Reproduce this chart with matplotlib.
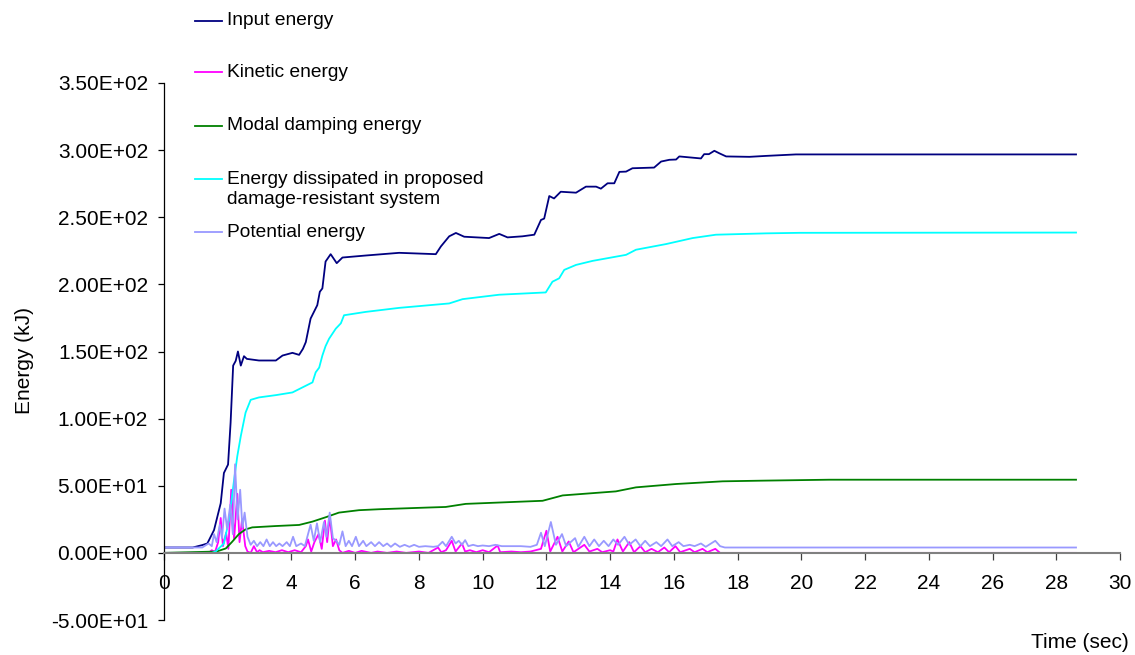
import matplotlib
matplotlib.use('Agg')
import matplotlib.pyplot as plt
from matplotlib.lines import Line2D
from matplotlib.ticker import FuncFormatter

plt.rcParams['font.family'] = ['Liberation Sans', 'DejaVu Sans']

# time (sec) / energy (kJ)
input_t = [0, 0.9, 1.2, 1.36, 1.57, 1.78, 1.88, 2.01, 2.09, 2.17, 2.25, 2.32, 2.41, 2.51,
           2.6, 2.98, 3.51, 3.72, 4.03, 4.24, 4.36, 4.45, 4.6, 4.81, 4.89, 4.97, 5.07,
           5.23, 5.42, 5.6, 6.33, 7.38, 8.53, 8.69, 8.95, 9.16, 9.42, 10.2, 10.52, 10.78,
           11.25, 11.62, 11.83, 11.93, 12.09, 12.24, 12.45, 12.93, 13.24, 13.56, 13.71,
           13.92, 14.13, 14.29, 14.5, 14.7, 15.38, 15.6, 15.86, 16.07, 16.17, 16.85,
           16.95, 17.1, 17.27, 17.43, 17.64, 18.37, 18.89, 19.83, 28.62]
input_e = [4, 4, 5.8, 7, 17, 37, 59.5, 65.8, 97, 139.5, 143, 150, 139.5, 146.5,
           144.5, 143.3, 143.3, 147, 149, 147.5, 152, 157, 174.5, 184.5, 194.5, 197, 217,
           222.5, 215.8, 220, 221.5, 223.5, 222.5, 228.3, 235.8, 238.3, 235.5, 234.5, 237.6, 235,
           235.8, 237, 248, 249, 265.8, 264, 269, 268.3, 272.8, 272.8, 271.3,
           275.3, 275.3, 283.8, 284, 286.5, 287, 291.5, 292.8, 293, 295.3, 293.8,
           297, 297, 299.5, 297.6, 295.3, 295, 295.7, 296.8, 296.8]

kinetic_t = [0, 1.4, 1.5, 1.6, 1.7, 1.78, 1.85, 1.95, 2.02, 2.11, 2.2, 2.3, 2.37, 2.45,
             2.55, 2.62, 2.72, 2.82, 2.92, 3.0, 3.1, 3.3, 3.5, 3.7, 3.9, 4.1, 4.3, 4.45,
             4.52, 4.62, 4.72, 4.85, 4.95, 5.05, 5.12, 5.2, 5.3, 5.4, 5.5, 5.6, 5.8, 6.0,
             6.2, 6.5, 6.7, 7.0, 7.3, 7.6, 8.0, 8.3, 8.6, 8.7, 8.85, 9.03, 9.15, 9.35,
             9.45, 9.6, 9.8, 10.0, 10.2, 10.47, 10.55, 10.9, 11.2, 11.5, 11.83, 12.0,
             12.12, 12.35, 12.5, 12.7, 12.85, 13.19, 13.35, 13.6, 13.75, 14.0, 14.1,
             14.23, 14.4, 14.6, 14.75, 14.95, 15.1, 15.3, 15.5, 15.7, 15.85, 16.05, 16.2,
             16.5, 16.65, 16.9, 17.05, 17.3, 17.45, 28.62]
kinetic_e = [0, 0, 2, 0.5, 8, 26, 5, 15, 3, 47, 10, 44, 8, 25,
             5, 1, 0, 5, 0.5, 2, 0.5, 1.5, 0.5, 2, 0.5, 2, 0.5, 5,
             10, 1, 8, 14, 3, 24, 8, 27, 5, 10, 2, 0, 1.5, 0,
             1.5, 0, 1, 0, 1, 0, 1, 0, 4, 0.5, 2, 9, 1, 7,
             1, 2, 0.5, 2, 0.5, 5.5, 0.5, 1, 0.5, 1, 3, 16.5,
             1, 12, 1, 8.5, 0.5, 6, 1, 3, 0.5, 2, 1,
             10, 1, 8, 0.5, 5, 0.5, 3, 0.5, 4, 0.5, 5, 0.5,
             3, 0.5, 3, 0.5, 3, 0, 0]

modal_t = [0, 1.65, 1.94, 2.14, 2.35, 2.56, 2.77, 3.51, 4.24, 4.66, 5.07, 5.49, 6.12,
           6.75, 8.32, 8.84, 9.47, 11.88, 12.51, 14.18, 14.81, 16.07, 17.53, 18.79,
           20.88, 28.62]
modal_e = [0, 1, 3.3, 8.3, 14, 17.5, 19, 20, 20.8, 23.3, 26.5, 30, 31.8,
           32.5, 33.8, 34.2, 36.5, 38.8, 42.8, 45.8, 48.8, 51.3, 53.3, 53.8,
           54.5, 54.5]

dissip_t = [0, 1.5, 1.62, 1.88, 2.04, 2.2, 2.3, 2.41, 2.56, 2.72, 2.98, 3.51, 4.03, 4.45,
            4.66, 4.76, 4.87, 4.97, 5.07, 5.18, 5.39, 5.55, 5.65, 6.33, 7.38, 8.95, 9.37,
            10.52, 11.98, 12.19, 12.4, 12.56, 12.93, 13.45, 14.5, 14.81, 15.75, 16.59,
            17.32, 18.89, 19.94, 28.62]
dissip_e = [0, 0, 1, 7, 24.5, 54.5, 72, 87, 104.5, 114, 115.8, 117.5, 119.5, 124.5,
            127, 134.5, 138, 147, 154, 159.5, 167, 171, 177, 179.5, 182.5, 185.8, 189,
            192.3, 194, 202, 204.5, 210.8, 214.5, 217.5, 222, 225.8, 230, 234.5,
            237, 238, 238.4, 238.6]

potential_t = [0, 1.2, 1.4, 1.5, 1.57, 1.65, 1.75, 1.82, 1.9, 1.98, 2.08, 2.16, 2.23, 2.31,
               2.39, 2.46, 2.53, 2.62, 2.72, 2.82, 2.92, 3.02, 3.12, 3.22, 3.32, 3.42,
               3.52, 3.62, 3.72, 3.85, 3.95, 4.05, 4.15, 4.3, 4.42, 4.52, 4.6, 4.7, 4.8,
               4.9, 5.02, 5.1, 5.2, 5.3, 5.4, 5.5, 5.6, 5.7, 5.8, 5.9, 6.02, 6.12, 6.25,
               6.35, 6.5, 6.62, 6.75, 6.88, 7.0, 7.12, 7.25, 7.4, 7.55, 7.7, 7.85, 8.0,
               8.2, 8.45, 8.6, 8.74, 8.85, 9.03, 9.15, 9.25, 9.35, 9.45, 9.55, 9.7, 9.85,
               10.0, 10.2, 10.4, 10.6, 10.8, 11.2, 11.5, 11.7, 11.83, 11.95, 12.14, 12.3,
               12.49, 12.62, 12.9, 13.0, 13.19, 13.35, 13.5, 13.65, 13.8, 13.95, 14.1,
               14.25, 14.45, 14.6, 14.8, 14.95, 15.1, 15.25, 15.45, 15.6, 15.8, 15.95,
               16.15, 16.3, 16.5, 16.65, 16.85, 17.0, 17.3, 17.45, 17.6, 28.62]
potential_e = [4, 4, 7, 5, 14, 8, 21, 11, 33, 18, 36, 14, 66, 25,
               47, 19, 30, 12, 6, 9, 5, 8, 5, 10, 5, 8,
               5, 7, 5, 8, 5, 12, 5, 7, 5, 14, 21, 9, 22,
               8, 23, 12, 30, 11, 9, 6, 16, 5, 9, 5, 12, 5, 9,
               5, 8, 5, 8, 5, 7, 4.5, 7, 4.5, 6, 4.5, 6, 4.5,
               5, 4.5, 5, 8.3, 5, 12, 7, 9, 6, 9.5, 5, 6, 5,
               5.5, 5, 6, 5, 5, 5, 4.5, 6, 15, 5, 23, 6,
               14, 5, 11, 4.5, 12, 5, 10, 5, 9, 5, 10,
               6, 12, 6, 10, 5, 9, 5, 8, 5, 10, 5,
               8, 5, 6, 5, 7, 4.5, 9, 5, 4, 4]

series = [
    (input_t, input_e, '#000080', 'Input energy'),
    (kinetic_t, kinetic_e, '#FF00FF', 'Kinetic energy'),
    (modal_t, modal_e, '#008000', 'Modal damping energy'),
    (dissip_t, dissip_e, '#00FFFF', 'Energy dissipated in proposed\ndamage-resistant system'),
    (potential_t, potential_e, '#9999FF', 'Potential energy'),
]

fig = plt.figure(figsize=(11.35, 6.55), dpi=100)
ax = fig.add_axes([164 / 1135, 1 - 620 / 655, (1120 - 164) / 1135, (620 - 83) / 655])

for t, e, color, label in series:
    ax.plot(t, e, color=color, lw=1.3)

ax.set_xlim(0, 30)
ax.set_ylim(-50, 350)
ax.set_xticks(range(0, 31, 2))
ax.set_yticks(range(-50, 351, 50))
ax.yaxis.set_major_formatter(FuncFormatter(lambda v, p: '{:.2E}'.format(v)))

ax.spines['top'].set_visible(False)
ax.spines['right'].set_visible(False)
ax.spines['bottom'].set_position(('data', 0))
ax.spines['bottom'].set_color('#808080')
ax.spines['bottom'].set_linewidth(1.5)
ax.spines['left'].set_linewidth(0.9)
ax.tick_params(axis='y', direction='out', length=4.5, width=0.9, pad=7, labelsize=15)
ax.tick_params(axis='x', direction='out', length=5, width=0.9, pad=10, labelsize=15,
               color='#404040')

fig.text(25 / 1135, 1 - 360 / 655, 'Energy (kJ)', rotation=90, fontsize=15,
         ha='center', va='center')
fig.text(1129 / 1135, 1 - 642 / 655, 'Time (sec)', fontsize=15, ha='right', va='center')

# legend drawn by hand, stacked above the plot like the original
legend_y = [20.7, 72.3, 126, 179, 232.3]
for (t, e, color, label), py in zip(series, legend_y):
    yf = 1 - py / 655
    fig.add_artist(Line2D([195 / 1135, 222 / 1135], [yf, yf], color=color, lw=1.3))
    text_y = yf
    if '\n' in label:
        text_y = 1 - (py + 10.5) / 655
    fig.text(227 / 1135, text_y, label, fontsize=13.8, ha='left', va='center',
             linespacing=1.3)

fig.savefig('out.png', dpi=100)
